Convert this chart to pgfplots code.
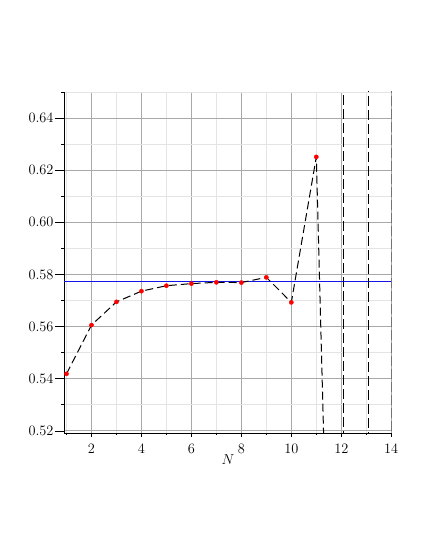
\documentclass[border=0pt]{standalone}
\usepackage{pgfplots}
\pgfplotsset{compat=1.18}

\definecolor{majgrid}{RGB}{168,168,168}
\definecolor{mingrid}{RGB}{228,228,228}
\definecolor{refline}{RGB}{20,20,230}

\begin{document}
\begin{tikzpicture}
\path[use as bounding box] (0,0) rectangle (429bp,555bp);
% main axis: grids, y ticks, data
\begin{axis}[
    at={(64bp,122bp)}, anchor=south west,
    scale only axis,
    width=328bp, height=341bp,
    xmin=0.9, xmax=14.03,
    ymin=0.5192, ymax=0.650,
    axis x line=bottom, axis y line=left,
    axis line style={-, line width=0.9bp, black},
    xtick={2,4,6,8,10,12,14},
    minor xtick={1,3,5,7,9,11,13},
    ytick={0.52,0.54,0.56,0.58,0.60,0.62,0.64},
    minor ytick={0.53,0.55,0.57,0.59,0.61,0.63,0.65},
    yticklabel style={/pgf/number format/fixed, /pgf/number format/fixed zerofill,
        /pgf/number format/precision=2, xshift=2bp},
    scaled y ticks=false,
    ticklabel style={font=\fontsize{14}{16}\selectfont},
    tick align=outside,
    major tick length=9bp, minor tick length=2.5bp,
    xtick style={draw=none}, minor x tick style={draw=none},
    tick style={black, line width=0.8bp},
    grid=both,
    major grid style={majgrid, line width=0.9bp},
    minor grid style={mingrid, line width=0.9bp},
    xticklabel style={yshift=1.5bp},
    xlabel={$N$},
    xlabel style={at={(axis description cs:0.5,0)}, anchor=center, yshift=-27bp,
        font=\fontsize{14}{16}\selectfont},
    clip=true,
]
% reference level 1/sqrt(3)
\addplot[color=refline, solid, line width=1.6bp] coordinates {(0.9,0.57735) (14.03,0.57735)};
\addplot[black, line width=1bp, dash pattern=on 8bp off 4bp] coordinates {
    (1,0.5419) (2,0.5606) (3,0.5695) (4,0.5736) (5,0.5757) (6,0.5765)
    (7,0.5770) (8,0.5769) (9,0.5789) (10,0.5693) (11,0.6251) (11.33,0.505)
};
\addplot[black, line width=1bp, dash pattern=on 10bp off 4bp] coordinates {(12.1,0.50) (12.1,0.67)};
\addplot[black, line width=1bp, dash pattern=on 10bp off 4bp] coordinates {(13.1,0.67) (13.1,0.50)};
\addplot[black!55, line width=1.2bp, dash pattern=on 10bp off 3bp] coordinates {(14.02,0.50) (14.02,0.67)};
\addplot[only marks, mark=*, mark size=2.1bp, red, mark options={draw=none, fill=red}] coordinates {
    (1,0.5419) (2,0.5606) (3,0.5695) (4,0.5736) (5,0.5757) (6,0.5765)
    (7,0.5770) (8,0.5769) (9,0.5789) (10,0.5693) (11,0.6251)
};
\end{axis}
% second axis: short x ticks only
\begin{axis}[
    at={(64bp,122bp)}, anchor=south west,
    scale only axis,
    width=328bp, height=341bp,
    xmin=0.9, xmax=14.03,
    ymin=0.5192, ymax=0.650,
    axis x line=bottom, axis y line=none,
    axis line style={-, line width=0.9bp, black},
    xtick={2,4,6,8,10,12,14},
    minor xtick={1,3,5,7,9,11,13},
    xticklabels={},
    tick align=outside,
    major tick length=4bp, minor tick length=2bp,
    tick style={black, line width=0.8bp},
]
\end{axis}
\end{tikzpicture}
\end{document}
